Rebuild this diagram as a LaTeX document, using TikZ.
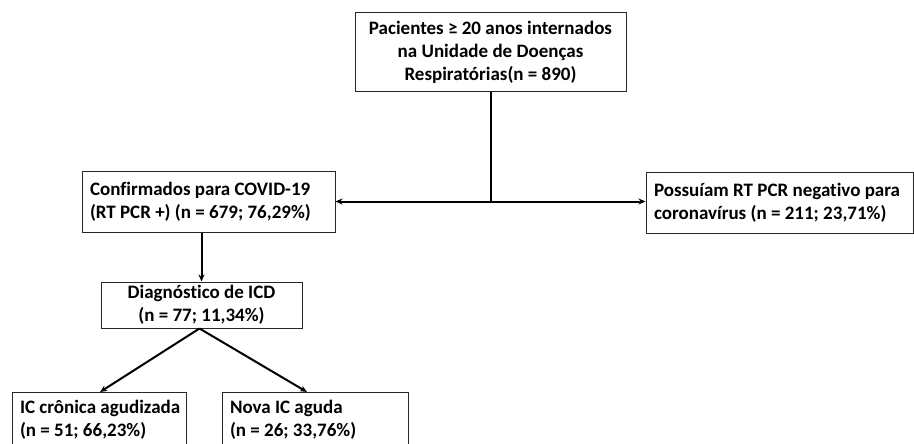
\documentclass[tikz,border=0pt]{standalone}
\usepackage{fontspec}
\setmainfont{Carlito}[Ligatures=NoCommon]
\usetikzlibrary{arrows.meta,calc}
\newcommand{\natsp}{\spaceskip=0pt\xspaceskip=0pt\relax}
\begin{document}
\frenchspacing
\begin{tikzpicture}[x=1pt,y=-1pt,
  box/.style={draw=black!85,line width=1pt,fill=white,inner sep=0pt,
    font=\frenchspacing\bfseries\fontsize{19}{23}\selectfont},
  cbox/.style={box,align=center},
  lbox/.style={box,align=left,inner xsep=8pt},
  conn/.style={line width=2pt,black},
  arr/.style={conn,-{Stealth[length=7pt,width=6pt]}}]
\useasboundingbox (0,0) rectangle (914,444);
\clip (0,0) rectangle (914,444);
\fill[white] (0,0) rectangle (914,444);
\node[cbox,minimum width=271pt,minimum height=79pt] (top) at (490.5,52.5)
  {Pacientes ≥ 20 anos internados\\na Unidade de Doenças\\Respiratórias(n = 890)};
\node[lbox,text width=237pt,minimum height=61pt] (left) at (208.5,201.5)
  {\natsp\mbox{Confirmados para COVID-19}\\\mbox{(RT PCR +) (n = 679; 76,29\%)}};
\node[lbox,text width=251pt,minimum height=61pt] (right) at (779.5,202.5)
  {\natsp\mbox{Possuíam RT PCR negativo para}\\\mbox{coronavírus (n = 211; 23,71\%)}};
\node[cbox,minimum width=201pt,minimum height=46pt] (diag) at (201.5,305)
  {Diagnóstico de ICD\\(n = 77; 11,34\%)};
\node[lbox,inner ysep=8pt,text width=158pt,minimum height=90pt,anchor=north] (bl) at (99,392)
  {\natsp\mbox{IC crônica agudizada}\\\mbox{(n = 51; 66,23\%)}\\[23pt]\mbox{}};
\node[lbox,inner ysep=8pt,text width=170pt,minimum height=90pt,anchor=north] (br) at (315,392)
  {\natsp\mbox{Nova IC aguda}\\\mbox{(n = 26; 33,76\%)}\\[23pt]\mbox{}};
\coordinate (j) at (top.south |- left.east);
\draw[conn] (top.south) -- (j);
\draw[arr] (j) -- (left.east);
\draw[arr] (j) -- (right.west |- j);
\draw[arr] (left.south -| diag.north) -- (diag.north);
\draw[arr] ([xshift=-2pt]diag.south) -- ([xshift=1pt]bl.north);
\draw[arr] ([xshift=-2pt]diag.south) -- ([xshift=-8pt]br.north);
\end{tikzpicture}
\end{document}
